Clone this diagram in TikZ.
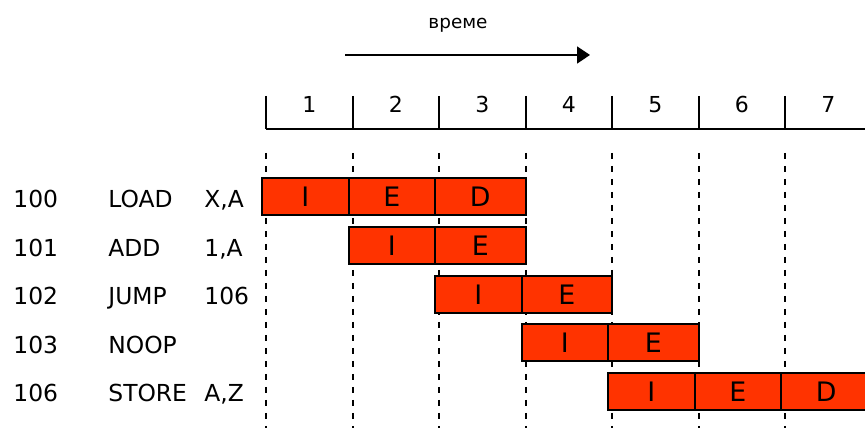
\documentclass[tikz,border=0pt]{standalone}
\usepackage{fontspec}
\setmainfont{DejaVu Sans}
\usetikzlibrary{arrows.meta}
\definecolor{stagefill}{HTML}{FF3300}
\begin{document}
\begin{tikzpicture}[x=0.5pt,y=-0.5pt,
  stage/.style={draw=black, line width=1pt, fill=stagefill, minimum height=18.5pt,
    inner sep=0pt, text height=10pt, text depth=0pt, font=\fontsize{13.4}{15}\selectfont},
  cell/.style={stage, minimum width=43.25pt},
  lastcell/.style={stage, minimum width=45.25pt},
  gridline/.style={line width=1pt},
  guide/.style={line width=1pt, dash pattern=on 3pt off 3.5pt},
  instr/.style={anchor=base west, inner sep=0pt, font=\fontsize{11.7}{14}\selectfont},
  cyclenum/.style={anchor=base, inner sep=0pt, font=\fontsize{11}{13}\selectfont},
  timearrow/.style={line width=0.8pt, -{Triangle[length=6.5pt,width=8.5pt]}}]
\useasboundingbox (0,0) rectangle (865,431);

% time axis
\node[anchor=base, inner sep=0pt, font=\fontsize{9.2}{11}\selectfont] (timelabel) at (458,28.3) {време};
\coordinate (t0) at (345,55);
\coordinate (t1) at (590,55);
\draw[timearrow] (t0) -- (t1);

% clock cycle header
\draw[gridline] (266,129) -- (865,129);
\foreach \x in {266,352.5,439,525.5,612,698.5,785}
  \draw[gridline] (\x,96) -- (\x,129);
\foreach \n/\x in {1/309.25,2/395.75,3/482.25,4/568.75,5/655.25,6/741.75,7/828.25}
  \node[cyclenum] (c\n) at (\x,112.3) {\n};

% cycle boundaries
\foreach \x in {266,352.5,439,525.5,612,698.5,785}
  \draw[guide] (\x,153) -- (\x,428);

% instruction listing
\foreach \r/\y/\adr/\op/\arg in {1/208/100/LOAD/{X,A},2/256.5/101/ADD/{1,A},3/305/102/JUMP/106,4/353.5/103/NOOP/{},5/402/106/STORE/{A,Z}}{
  \node[instr] (adr\r) at (13,\y) {\adr};
  \node[instr] (op\r) at (108,\y) {\op};
  \node[instr] (arg\r) at (204,\y) {\arg};
}

% pipeline stages
\node[cell] (s1i) at (305.25,196.5) {I};
\node[cell] (s1e) at (391.75,196.5) {E};
\node[lastcell] (s1d) at (480.25,196.5) {D};

\node[cell] (s2i) at (391.75,245.5) {I};
\node[lastcell] (s2e) at (480.25,245.5) {E};

\node[cell] (s3i) at (478.25,294.5) {I};
\node[lastcell] (s3e) at (566.75,294.5) {E};

\node[cell] (s4i) at (564.75,343) {I};
\node[lastcell] (s4e) at (653.25,343) {E};

\node[cell] (s5i) at (651.25,391.5) {I};
\node[cell] (s5e) at (737.75,391.5) {E};
\node[lastcell] (s5d) at (826.25,391.5) {D};
\end{tikzpicture}
\end{document}
